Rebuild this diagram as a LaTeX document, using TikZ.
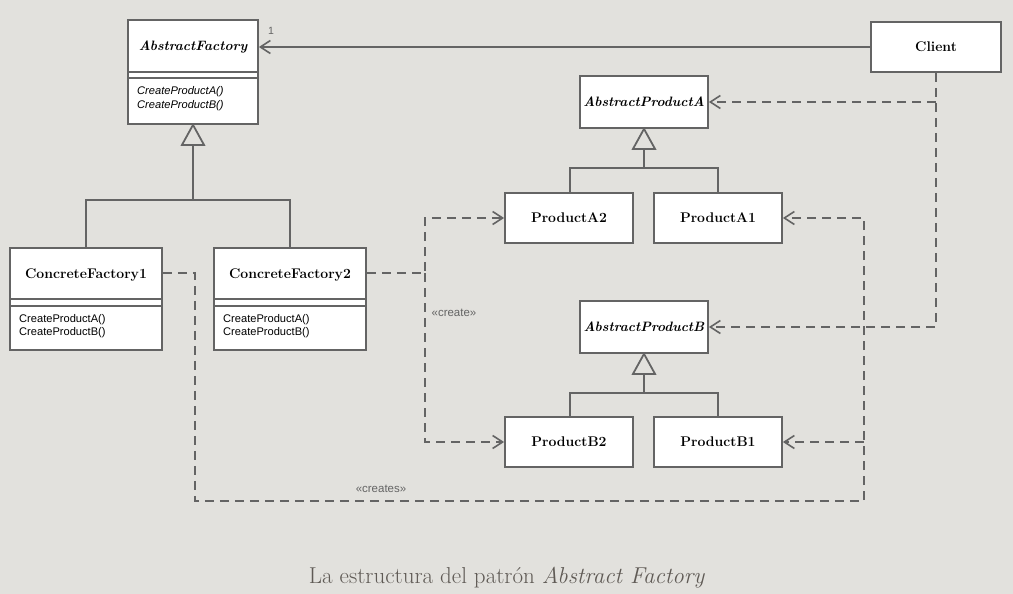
\documentclass[tikz,border=0pt]{standalone}
\usepackage{fontspec}
\usetikzlibrary{arrows.meta}
\newfontfamily\lsans{Liberation Sans}
\definecolor{bgc}{RGB}{226,225,221}
\definecolor{linec}{RGB}{100,100,100}
\definecolor{capc}{RGB}{95,90,85}
\tikzset{
  umlbox/.style={draw=linec, line width=1.8pt, fill=white, inner sep=0pt},
  ttl/.style={font=\fontsize{14}{16}\selectfont\bfseries, inner sep=0pt},
  attl/.style={font=\fontsize{13.6}{16}\selectfont\bfseries\itshape, inner sep=0pt},
  meth/.style={font=\lsans\fontsize{11.1}{13}\selectfont, anchor=west, inner sep=0pt},
  ameth/.style={font=\lsans\fontsize{11.1}{13}\selectfont\itshape, anchor=west, inner sep=0pt},
  conn/.style={draw=linec, line width=1.8pt},
  dep/.style={conn, dash pattern=on 9pt off 6pt},
  opentip/.style={-{Straight Barb[length=10pt,width=13pt,line width=1.6pt]}},
  gentri/.style={draw=linec, line width=1.8pt, fill=bgc, line join=miter},
  stereo/.style={font=\lsans\fontsize{11.5}{13}\selectfont, text=linec, inner sep=0pt},
}
\begin{document}
\begin{tikzpicture}[x=1pt,y=-1pt]
\fill[bgc] (0,0) rectangle (1013,594);
\useasboundingbox (0,0) rectangle (1013,594);

% AbstractFactory
\node[umlbox, minimum width=130pt, minimum height=104pt] (af) at (193,72) {};
\node[attl] (aft) at (193,47.5) {AbstractFactory};
\draw[conn] (128,72) -- (258,72);
\draw[conn] (128,78) -- (258,78);
\node[ameth] (afm1) at (137,92) {CreateProductA()};
\node[ameth] (afm2) at (137,106) {CreateProductB()};

% ConcreteFactory1
\node[umlbox, minimum width=152pt, minimum height=102pt] (cf1) at (86,299) {};
\node[ttl] (cf1t) at (86,275) {ConcreteFactory1};
\draw[conn] (10,299) -- (162,299);
\draw[conn] (10,306) -- (162,306);
\node[meth] (cf1m1) at (19,320) {CreateProductA()};
\node[meth] (cf1m2) at (19,333) {CreateProductB()};

% ConcreteFactory2
\node[umlbox, minimum width=152pt, minimum height=102pt] (cf2) at (290,299) {};
\node[ttl] (cf2t) at (290,275) {ConcreteFactory2};
\draw[conn] (214,299) -- (366,299);
\draw[conn] (214,306) -- (366,306);
\node[meth] (cf2m1) at (223,320) {CreateProductA()};
\node[meth] (cf2m2) at (223,333) {CreateProductB()};

% Client
\node[umlbox, minimum width=130pt, minimum height=50pt, ttl] (client) at (936,47) {Client};

% Products
\node[umlbox, minimum width=128pt, minimum height=52pt, attl] (apa) at (644,102) {AbstractProductA};
\node[umlbox, minimum width=128pt, minimum height=50pt, ttl] (pa2) at (569,218) {ProductA2};
\node[umlbox, minimum width=128pt, minimum height=50pt, ttl] (pa1) at (718,218) {ProductA1};
\node[umlbox, minimum width=128pt, minimum height=52pt, attl] (apb) at (644,327) {AbstractProductB};
\node[umlbox, minimum width=128pt, minimum height=50pt, ttl] (pb2) at (569,442) {ProductB2};
\node[umlbox, minimum width=128pt, minimum height=50pt, ttl] (pb1) at (718,442) {ProductB1};

% Generalisation: factories
\coordinate (h1) at (193,200);
\draw[conn] (af.south) ++(0,20) -- (h1);
\draw[conn] (cf1.north) |- (h1) -| (cf2.north);
\draw[gentri] (af.south) -- ++(-11,20) -- ++(22,0) -- cycle;

% Generalisation: product A
\coordinate (h2) at (644,168);
\draw[conn] (apa.south) ++(0,20) -- (h2);
\draw[conn] (pa2.north -| 570,0) |- (h2) -| (pa1.north -| 718,0);
\draw[gentri] (apa.south) -- ++(-11,20) -- ++(22,0) -- cycle;

% Generalisation: product B
\coordinate (h3) at (644,393);
\draw[conn] (apb.south) ++(0,20) -- (h3);
\draw[conn] (pb2.north -| 570,0) |- (h3) -| (pb1.north -| 718,0);
\draw[gentri] (apb.south) -- ++(-11,20) -- ++(22,0) -- cycle;

% Client association
\draw[conn, opentip] (client.west) -- (client.west -| af.east);
\node[font=\lsans\fontsize{10.5}{12}\selectfont, text=linec, inner sep=0pt] (one) at (271,31) {1};

% Client dependencies
\draw[dep, opentip] (client.south) |- (apb.east);
\draw[dep, opentip] (client.south |- apa.east) -- (apa.east);

% ConcreteFactory2 creates
\coordinate (j2) at (425,273);
\draw[dep, opentip] (j2 -| cf2.east) -- (j2) |- (pa2.west);
\draw[dep, opentip] (j2) |- (pb2.west);
\node[stereo] (cr2) at (454,313) {«create»};

% ConcreteFactory1 creates
\coordinate (j1) at (195,273);
\coordinate (j1a) at (195,501);
\coordinate (j1b) at (864,501);
\draw[dep, opentip] (j1 -| cf1.east) -- (j1) -- (j1a) -- (j1b) |- (pa1.east);
\draw[dep, opentip] (j1b |- pb1.east) -- (pb1.east);
\node[stereo] (cr1) at (381,489) {«creates»};

% Caption
\node[font=\fontsize{23}{26}\selectfont, text=capc, inner sep=0pt] (cap) at (507,578) {La estructura del patrón \textit{Abstract Factory}};
\end{tikzpicture}
\end{document}
